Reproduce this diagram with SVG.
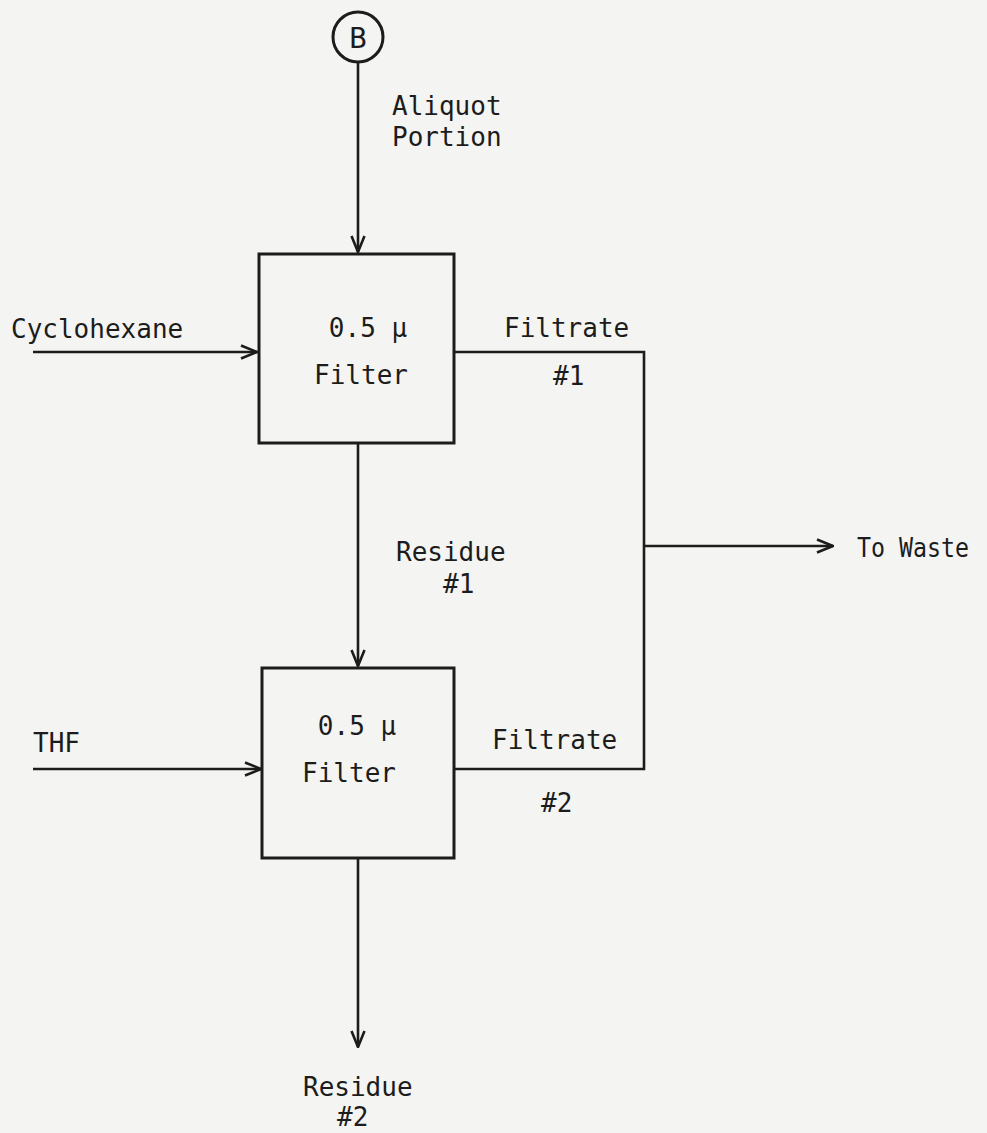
<svg xmlns="http://www.w3.org/2000/svg" width="987" height="1133" viewBox="0 0 987 1133">
<defs>
<style>
.bg{fill:#f4f4f2}
.box{fill:none;stroke:#1c1c1c;stroke-width:3}
.ln{fill:none;stroke:#1c1c1c;stroke-width:2.6}
.t{font-family:"DejaVu Sans Mono","Liberation Mono",monospace;font-size:26px;fill:#1c1c1c}
</style>
<marker id="arr" viewBox="0 0 18 16" refX="17" refY="8" markerWidth="18" markerHeight="16" markerUnits="userSpaceOnUse" orient="auto">
<path d="M1,1.5 L17,8 L1,14.5" fill="none" stroke="#1c1c1c" stroke-width="2.6"/>
</marker>
</defs>
<rect class="bg" x="0" y="0" width="987" height="1133"/>
<g id="connectors">
<line class="ln" x1="358" y1="62" x2="358" y2="252" marker-end="url(#arr)"/>
<line class="ln" x1="33" y1="352" x2="257" y2="352" marker-end="url(#arr)"/>
<polyline class="ln" points="454,352 644,352 644,769 455,769"/>
<line class="ln" x1="644" y1="546" x2="833" y2="546" marker-end="url(#arr)"/>
<line class="ln" x1="358" y1="444" x2="358" y2="666" marker-end="url(#arr)"/>
<line class="ln" x1="33" y1="769" x2="261" y2="769" marker-end="url(#arr)"/>
<line class="ln" x1="358" y1="859" x2="358" y2="1047" marker-end="url(#arr)"/>
</g>
<g id="node-B">
<circle class="box" cx="358" cy="37" r="25" stroke-width="2.6"/>
<text class="t" x="358" y="48" text-anchor="middle" style="font-size:29px">B</text>
</g>
<g id="label-aliquot">
<text class="t" x="392" y="115">Aliquot</text>
<text class="t" x="392" y="146">Portion</text>
</g>
<g id="filter1">
<rect class="box" x="259" y="254" width="195" height="189"/>
<text class="t" x="368" y="337" text-anchor="middle">0.5 µ</text>
<text class="t" x="361" y="384" text-anchor="middle">Filter</text>
</g>
<g id="filter2">
<rect class="box" x="262" y="668" width="192" height="190"/>
<text class="t" x="357" y="735" text-anchor="middle">0.5 µ</text>
<text class="t" x="349" y="782" text-anchor="middle">Filter</text>
</g>
<g id="label-cyclohexane"><text class="t" x="11" y="338">Cyclohexane</text></g>
<g id="label-filtrate1">
<text class="t" x="504" y="337">Filtrate</text>
<text class="t" x="553" y="385">#1</text>
</g>
<g id="label-residue1">
<text class="t" x="396" y="561">Residue</text>
<text class="t" x="443" y="593">#1</text>
</g>
<g id="label-waste"><text class="t" x="857" y="557" textLength="112" lengthAdjust="spacingAndGlyphs">To Waste</text></g>
<g id="label-thf"><text class="t" x="33" y="752">THF</text></g>
<g id="label-filtrate2">
<text class="t" x="492" y="749">Filtrate</text>
<text class="t" x="541" y="812">#2</text>
</g>
<g id="label-residue2">
<text class="t" x="303" y="1096">Residue</text>
<text class="t" x="337" y="1126">#2</text>
</g>
</svg>
